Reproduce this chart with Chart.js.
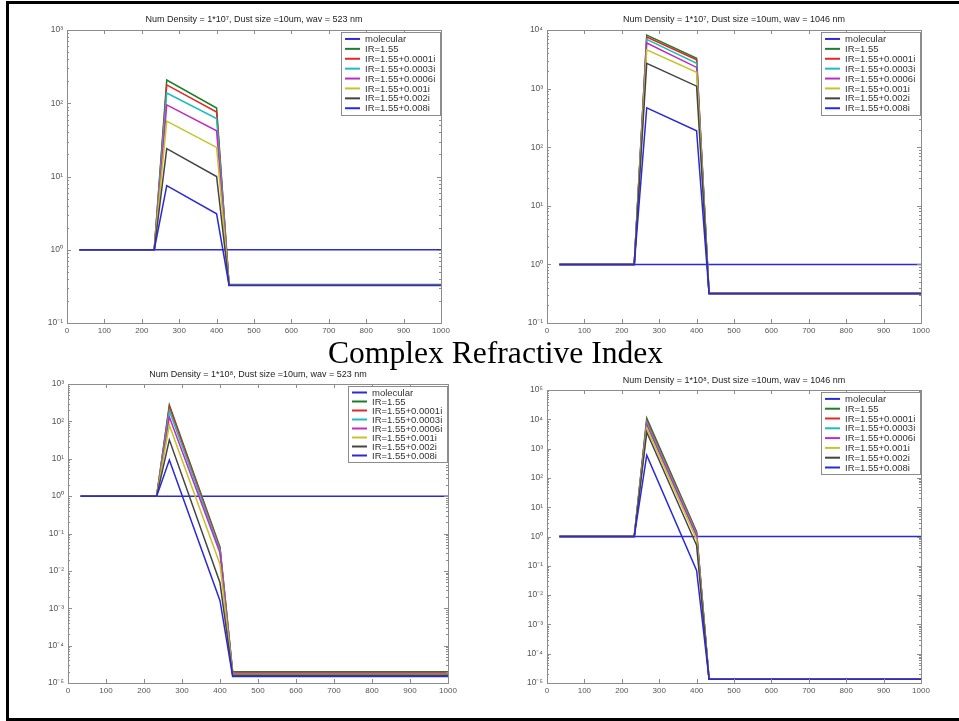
<!DOCTYPE html>
<html>
<head>
<meta charset="utf-8">
<title>Complex Refractive Index</title>
<script src="https://cdn.jsdelivr.net/npm/chart.js@4.4.1/dist/chart.umd.min.js"></script>
<style>
  html, body { margin: 0; padding: 0; background: #fff; overflow: hidden; }
  #page { position: relative; width: 959px; height: 721px; }
  #frame {
    position: absolute; left: 6px; top: 1px; width: 960px; height: 720px; box-sizing: border-box;
    border-left: 3px solid #000; border-top: 3px solid #000; border-bottom: 3px solid #000;
  }
  canvas { position: absolute; }
  #caption {
    position: absolute; left: 328px; top: 337px; white-space: nowrap; color: #000;
    font: 31.6px/32px "Liberation Serif", "Times New Roman", serif;
  }
</style>
</head>
<body>
<div id="page">
  <div id="frame"></div>
  <canvas id="p1"></canvas>
  <canvas id="p2"></canvas>
  <canvas id="p3"></canvas>
  <canvas id="p4"></canvas>
  <div id="caption">Complex Refractive Index</div>
</div>
<script>
// altitude grid (x) shared by every curve
const altitudes = [33.3, 233.3, 266.7, 400, 433.3, 1000];
const xTicks = [0, 100, 200, 300, 400, 500, 600, 700, 800, 900, 1000];

const seriesLabels = ['molecular', 'IR=1.55', 'IR=1.55+0.0001i', 'IR=1.55+0.0003i',
  'IR=1.55+0.0006i', 'IR=1.55+0.001i', 'IR=1.55+0.002i', 'IR=1.55+0.008i'];

const panelTitles = [
  'Num Density = 1*10\u2077, Dust size =10um, wav = 523 nm',
  'Num Density = 1*10\u2077, Dust size =10um, wav = 1046 nm',
  'Num Density = 1*10\u2078, Dust size =10um, wav = 523 nm',
  'Num Density = 1*10\u2078, Dust size =10um, wav = 1046 nm'
];

// log axis range per panel, as powers of ten [low, high]
const yExponents = [[-1, 3], [-1, 4], [-5, 3], [-5, 5]];

const molecular = [1, 1, 1, 1, 1, 1];

// rows: IR=1.55, +0.0001i, +0.0003i, +0.0006i, +0.001i, +0.002i, +0.008i
const dens7wav523 = [
  [1, 1, 207, 86, 0.335, 0.335],
  [1, 1, 178, 76, 0.333, 0.333],
  [1, 1, 138, 62, 0.332, 0.332],
  [1, 1, 95, 42, 0.331, 0.331],
  [1, 1, 57, 25, 0.33, 0.33],
  [1, 1, 24, 10, 0.328, 0.328],
  [1, 1, 7.5, 3.1, 0.326, 0.326]
];
const dens7wav1046 = [
  [1, 1, 8200, 3300, 0.322, 0.322],
  [1, 1, 7600, 3100, 0.321, 0.321],
  [1, 1, 6900, 2700, 0.32, 0.32],
  [1, 1, 6000, 2300, 0.32, 0.32],
  [1, 1, 4600, 1900, 0.319, 0.319],
  [1, 1, 2700, 1100, 0.318, 0.318],
  [1, 1, 470, 190, 0.316, 0.316]
];
const dens8wav523 = [
  [1, 1, 275, 0.043, 2.0e-5, 2.0e-5],
  [1, 1, 247, 0.040, 1.9e-5, 1.9e-5],
  [1, 1, 193, 0.035, 1.8e-5, 1.8e-5],
  [1, 1, 131, 0.030, 1.75e-5, 1.75e-5],
  [1, 1, 79, 0.015, 1.7e-5, 1.7e-5],
  [1, 1, 32, 0.0048, 1.6e-5, 1.6e-5],
  [1, 1, 9.3, 0.0016, 1.5e-5, 1.5e-5]
];
const dens8wav1046 = [
  [1, 1, 11000, 1.45, 1.4e-5, 1.4e-5],
  [1, 1, 9000, 1.35, 1.38e-5, 1.38e-5],
  [1, 1, 7800, 1.2, 1.37e-5, 1.37e-5],
  [1, 1, 6500, 1.05, 1.36e-5, 1.36e-5],
  [1, 1, 5000, 0.8, 1.35e-5, 1.35e-5],
  [1, 1, 3600, 0.5, 1.34e-5, 1.34e-5],
  [1, 1, 600, 0.07, 1.33e-5, 1.33e-5]
];

// matlab default color order (cycles back to blue)
const lineColors = ['#2a2ad6', '#1b7f2b', '#e02828', '#1fbcbc', '#c02cc0', '#c4c428', '#444444', '#2a2ad6'];
const FONT = "'Liberation Sans', Arial, sans-serif";
const SUP = { '-': '\u207B', '0': '\u2070', '1': '\u00B9', '2': '\u00B2', '3': '\u00B3', '4': '\u2074', '5': '\u2075', '6': '\u2076', '7': '\u2077', '8': '\u2078', '9': '\u2079' };

const sup = n => String(n).split('').map(c => SUP[c]).join('');

// plot box in page pixels [left, top, right, bottom]
const panels = [
  { id: 'p1', rows: dens7wav523, plot: [67, 30, 441, 323], titleGap: 4.6, rowH: 9.9 },
  { id: 'p2', rows: dens7wav1046, plot: [547, 30, 921, 323], titleGap: 4.6, rowH: 9.9 },
  { id: 'p3', rows: dens8wav523, plot: [68, 384, 448, 683], titleGap: 3.6, rowH: 9.0 },
  { id: 'p4', rows: dens8wav1046, plot: [547, 390, 921, 683], titleGap: 3.9, rowH: 9.8 }
];

// box, inward ticks and log minor ticks like the matlab axes
const matlabAxes = {
  id: 'matlabAxes',
  afterDatasetsDraw(chart, args, opts) {
    const { ctx, chartArea: a, scales: { x, y } } = chart;
    const [lo, hi] = opts.exps;
    ctx.save();
    ctx.strokeStyle = '#8c8c8c';
    ctx.lineWidth = 1;
    ctx.beginPath();
    xTicks.forEach(v => {
      const px = Math.round(x.getPixelForValue(v)) + 0.5;
      ctx.moveTo(px, a.bottom); ctx.lineTo(px, a.bottom - 4);
      ctx.moveTo(px, a.top); ctx.lineTo(px, a.top + 4);
    });
    for (let e = lo; e <= hi; e++) {
      const py = Math.round(y.getPixelForValue(10 ** e)) + 0.5;
      ctx.moveTo(a.left, py); ctx.lineTo(a.left + 4, py);
      ctx.moveTo(a.right, py); ctx.lineTo(a.right - 4, py);
      if (e === hi) continue;
      for (let m = 2; m <= 9; m++) {
        const pm = Math.round(y.getPixelForValue(m * 10 ** e)) + 0.5;
        ctx.moveTo(a.left, pm); ctx.lineTo(a.left + 2, pm);
        ctx.moveTo(a.right, pm); ctx.lineTo(a.right - 2, pm);
      }
    }
    ctx.stroke();
    ctx.strokeRect(Math.round(a.left) + 0.5, Math.round(a.top) + 0.5,
      Math.round(a.right - a.left), Math.round(a.bottom - a.top));
    ctx.restore();
  }
};

// legend in a white box at the top right of the axes
const boxLegend = {
  id: 'boxLegend',
  afterDraw(chart, args, opts) {
    const { ctx, chartArea: a } = chart;
    const items = chart.data.datasets;
    ctx.save();
    ctx.font = `${opts.size}px ${FONT}`;
    const textW = Math.max(...items.map(d => ctx.measureText(d.label).width));
    const w = Math.round(4 + 15 + 5 + textW + 5);
    const h = Math.round(items.length * opts.rowH + 4);
    const right = Math.round(a.right) - 1;
    const top = Math.round(a.top) + 2;
    const left = right - w;
    ctx.fillStyle = '#fff';
    ctx.fillRect(left, top, w, h);
    ctx.strokeStyle = '#8c8c8c';
    ctx.lineWidth = 1;
    ctx.strokeRect(left + 0.5, top + 0.5, w, h);
    ctx.textBaseline = 'middle';
    items.forEach((d, i) => {
      const cy = top + 2 + opts.rowH * (i + 0.5);
      ctx.strokeStyle = d.borderColor;
      ctx.lineWidth = 2;
      ctx.beginPath();
      ctx.moveTo(left + 4, cy); ctx.lineTo(left + 19, cy);
      ctx.stroke();
      ctx.fillStyle = '#333';
      ctx.fillText(d.label, left + 24, cy + 0.5);
    });
    ctx.restore();
  }
};

panels.forEach((p, k) => {
  const [L, T, R, B] = p.plot;
  const [lo, hi] = yExponents[k];
  const canvas = document.getElementById(p.id);
  const w = R - L + 80;
  const h = B - T + 55;
  canvas.width = w; canvas.height = h;
  canvas.style.width = w + 'px'; canvas.style.height = h + 'px';
  canvas.style.left = (L - 60) + 'px';
  canvas.style.top = (T - 30) + 'px';

  const datasets = [molecular].concat(p.rows).map((vals, i) => ({
    label: seriesLabels[i],
    data: altitudes.map((x, j) => ({ x: x, y: vals[j] })),
    borderColor: lineColors[i],
    borderWidth: 1.5,
    pointRadius: 0,
    tension: 0,
    fill: false,
    order: seriesLabels.length - i
  }));

  new Chart(canvas, {
    type: 'line',
    data: { datasets: datasets },
    plugins: [matlabAxes, boxLegend],
    options: {
      responsive: false,
      animation: false,
      events: [],
      layout: { padding: { left: 0, top: 30 - 10.8 - p.titleGap, right: 20, bottom: 5 } },
      plugins: {
        legend: { display: false },
        tooltip: { enabled: false },
        title: {
          display: true,
          fullSize: false,
          text: panelTitles[k],
          color: '#222',
          font: { family: FONT, size: 9, weight: 'normal', lineHeight: 1.2 },
          padding: { top: 0, bottom: p.titleGap }
        },
        matlabAxes: { exps: [lo, hi] },
        boxLegend: { size: 9.5, rowH: p.rowH }
      },
      scales: {
        x: {
          type: 'linear',
          min: 0,
          max: 1000,
          afterBuildTicks: s => { s.ticks = xTicks.map(v => ({ value: v })); },
          afterFit: s => { s.height = 20; },
          grid: { display: false, drawTicks: false },
          border: { display: false },
          ticks: {
            padding: 3, color: '#555', autoSkip: false, maxRotation: 0,
            font: { family: FONT, size: 8 },
            callback: v => String(v)
          }
        },
        y: {
          type: 'logarithmic',
          min: 10 ** lo,
          max: 10 ** hi,
          afterBuildTicks: s => {
            const t = [];
            for (let e = lo; e <= hi; e++) t.push({ value: 10 ** e });
            s.ticks = t;
          },
          afterFit: s => { s.width = 60; },
          grid: { display: false, drawTicks: false },
          border: { display: false },
          ticks: {
            padding: 4,
            color: '#555',
            autoSkip: false,
            font: { family: FONT, size: 8.5 },
            callback: v => '10' + sup(Math.round(Math.log10(v)))
          }
        }
      }
    }
  });
});
</script>
</body>
</html>
